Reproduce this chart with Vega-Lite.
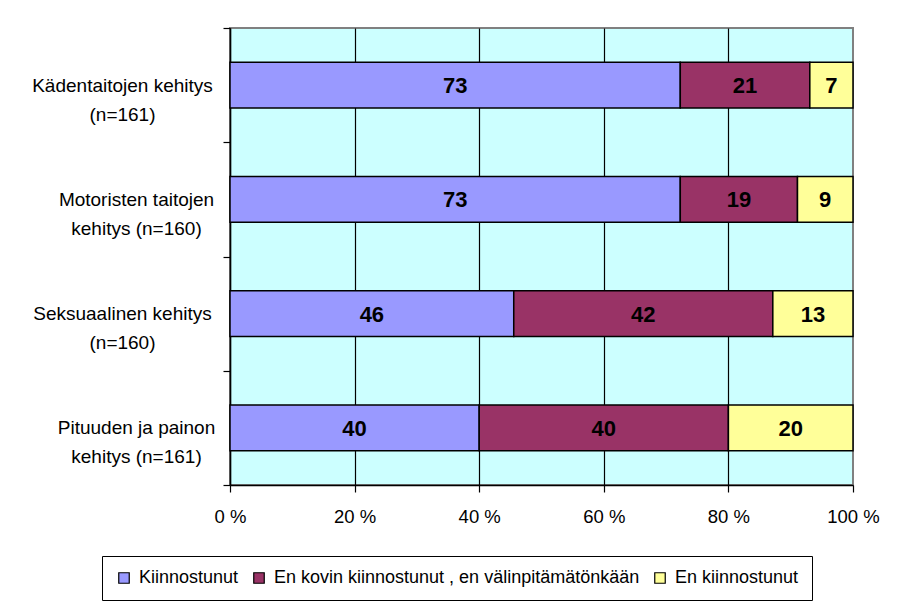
{
  "$schema": "https://vega.github.io/schema/vega-lite/v6.json",
  "width": 623,
  "height": 457,
  "autosize": {"type": "none"},
  "padding": {"left": 230, "top": 28, "right": 44, "bottom": 118},
  "background": "white",
  "config": {
    "font": "Liberation Sans",
    "view": {"fill": "#CCFFFF", "stroke": "#808080", "strokeWidth": 2}
  },
  "data": {
    "values": [
      {"cat": "Kädentaitojen kehitys|(n=161)", "series": "Kiinnostunut", "value": 73, "order": 1},
      {"cat": "Kädentaitojen kehitys|(n=161)", "series": "En kovin kiinnostunut , en välinpitämätönkään", "value": 21, "order": 2},
      {"cat": "Kädentaitojen kehitys|(n=161)", "series": "En kiinnostunut", "value": 7, "order": 3},
      {"cat": "Motoristen taitojen|kehitys (n=160)", "series": "Kiinnostunut", "value": 73, "order": 1},
      {"cat": "Motoristen taitojen|kehitys (n=160)", "series": "En kovin kiinnostunut , en välinpitämätönkään", "value": 19, "order": 2},
      {"cat": "Motoristen taitojen|kehitys (n=160)", "series": "En kiinnostunut", "value": 9, "order": 3},
      {"cat": "Seksuaalinen kehitys|(n=160)", "series": "Kiinnostunut", "value": 46, "order": 1},
      {"cat": "Seksuaalinen kehitys|(n=160)", "series": "En kovin kiinnostunut , en välinpitämätönkään", "value": 42, "order": 2},
      {"cat": "Seksuaalinen kehitys|(n=160)", "series": "En kiinnostunut", "value": 13, "order": 3},
      {"cat": "Pituuden ja painon|kehitys (n=161)", "series": "Kiinnostunut", "value": 40, "order": 1},
      {"cat": "Pituuden ja painon|kehitys (n=161)", "series": "En kovin kiinnostunut , en välinpitämätönkään", "value": 40, "order": 2},
      {"cat": "Pituuden ja painon|kehitys (n=161)", "series": "En kiinnostunut", "value": 20, "order": 3}
    ]
  },
  "transform": [
    {"stack": "value", "groupby": ["cat"], "offset": "normalize", "sort": [{"field": "order", "order": "ascending"}], "as": ["x0", "x1"]}
  ],
  "encoding": {
    "y": {
      "field": "cat",
      "type": "nominal",
      "sort": ["Kädentaitojen kehitys|(n=161)", "Motoristen taitojen|kehitys (n=160)", "Seksuaalinen kehitys|(n=160)", "Pituuden ja painon|kehitys (n=161)"],
      "scale": {"paddingInner": 0, "paddingOuter": 0},
      "axis": {
        "title": null,
        "domainColor": "black",
        "domainWidth": 1.5,
        "tickColor": "black",
        "tickSize": 7,
        "tickWidth": 1.2,
        "tickBand": "extent",
        "labelAlign": "center",
        "labelBaseline": "middle",
        "labelFontSize": 19,
        "labelColor": "black",
        "labelLineHeight": 29,
        "labelLimit": 400,
        "labelPadding": {"condition": {"test": "indexof(datum.label, 'Kädentaitojen') === 0 || indexof(datum.label, 'Seksuaalinen') === 0", "value": 101}, "value": 87},
        "labelExpr": "split(datum.label, '|')"
      }
    }
  },
  "layer": [
    {
      "mark": {"type": "bar", "height": {"band": 0.4}, "stroke": "black", "strokeWidth": 1.5, "opacity": 1},
      "encoding": {
        "x": {
          "field": "x0",
          "type": "quantitative",
          "scale": {"domain": [0, 1], "nice": false},
          "axis": {
            "title": null,
            "values": [0, 0.2, 0.4, 0.6, 0.8, 1],
            "labelExpr": "round(datum.value * 100) + ' %'",
            "grid": true,
            "gridColor": "black",
            "gridWidth": 1.2,
            "gridOpacity": {"condition": {"test": "datum.value >= 1", "value": 0}, "value": 1},
            "domainColor": "black",
            "domainWidth": 1.5,
            "tickColor": "black",
            "tickSize": 7,
            "tickWidth": 1.2,
            "labelFontSize": 18.5,
            "labelColor": "black",
            "labelPadding": 15,
            "labelFlush": false
          }
        },
        "x2": {"field": "x1"},
        "color": {
          "field": "series",
          "type": "nominal",
          "scale": {
            "domain": ["Kiinnostunut", "En kovin kiinnostunut , en välinpitämätönkään", "En kiinnostunut"],
            "range": ["#9999FF", "#993366", "#FFFF99"]
          },
          "legend": {
            "orient": "none",
            "legendX": -128,
            "legendY": 528,
            "direction": "horizontal",
            "title": null,
            "strokeColor": "black",
            "fillColor": "white",
            "padding": 13,
            "symbolType": "square",
            "symbolSize": 110,
            "symbolStrokeColor": "black",
            "symbolStrokeWidth": 1.2,
            "symbolOpacity": 1,
            "labelFontSize": 18,
            "labelColor": "black",
            "labelLimit": 600,
            "columnPadding": 11,
            "labelOffset": 6
          }
        }
      }
    },
    {
      "transform": [
        {"fold": ["x0", "x1"], "as": ["edge", "pos"]},
        {"aggregate": [{"op": "mean", "field": "pos", "as": "mid"}], "groupby": ["cat", "series", "value"]}
      ],
      "mark": {"type": "text", "fontWeight": "bold", "fontSize": 22, "color": "black", "align": "center", "baseline": "middle", "dy": 1},
      "encoding": {
        "x": {"field": "mid", "type": "quantitative"},
        "text": {"field": "value", "type": "quantitative"}
      }
    }
  ]
}
